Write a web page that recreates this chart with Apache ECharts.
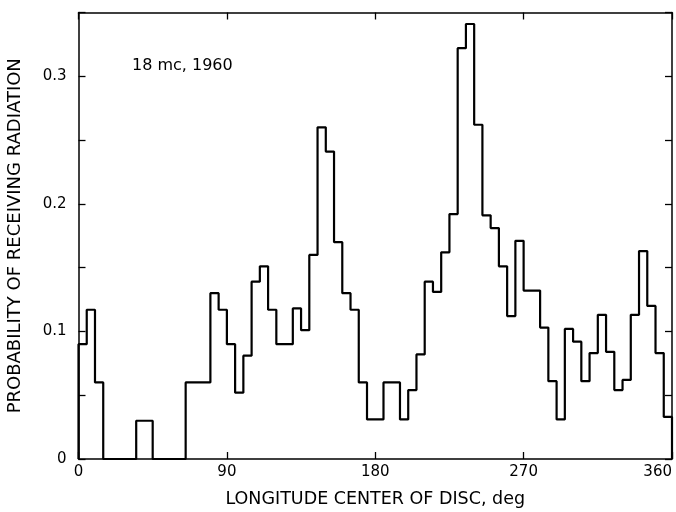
<!DOCTYPE html>
<html>
<head>
<meta charset="utf-8">
<script src="https://cdn.jsdelivr.net/npm/echarts@6/dist/echarts.min.js"></script>
<style>html,body{margin:0;padding:0;background:#fff}#c{width:676px;height:512px}</style>
</head>
<body>
<div id="c"></div>
<script>
// Bin start longitudes (deg), 5-degree bins
const binStarts = [0,5,10,15,20,25,30,35,40,45,50,55,60,65,70,75,80,85,90,95,100,105,110,115,
  120,125,130,135,140,145,150,155,160,165,170,175,180,185,190,195,200,205,210,215,220,225,230,235,
  240,245,250,255,260,265,270,275,280,285,290,295,300,305,310,315,320,325,330,335,340,345,350,355];
const binEnd = 360;
// Probability of receiving radiation per bin
const probability = [0.09,0.117,0.06,0,0,0,0,0.03,0.03,0,0,0,0,0.06,0.06,0.06,0.13,0.117,0.09,0.052,0.081,0.139,0.151,0.117,
  0.09,0.09,0.118,0.101,0.16,0.26,0.241,0.17,0.13,0.117,0.06,0.031,0.031,0.06,0.06,0.031,0.054,0.082,0.139,0.131,0.162,0.192,0.322,0.341,
  0.262,0.191,0.181,0.151,0.112,0.171,0.132,0.132,0.103,0.061,0.031,0.102,0.092,0.061,0.083,0.113,0.084,0.054,0.062,0.113,0.163,0.12,0.083,0.033];
const xTicks = [0, 90, 180, 270, 360];
const yLabels = ['0', '0.1', '0.2', '0.3'];

const pts = [[binStarts[0], 0]];
binStarts.forEach((s, i) => pts.push([s, probability[i]]));
pts.push([binEnd, probability[probability.length - 1]]);
pts.push([binEnd, 0]);

const FONT = 'DejaVu Sans';
const chart = echarts.init(document.getElementById('c'), null, {renderer: 'canvas'});
const axisLine = {show: true, onZero: false, lineStyle: {color: '#000', width: 1.5}};
const tick = {show: true, inside: true, length: 7, lineStyle: {color: '#000', width: 1.3}};
chart.setOption({
  animation: false,
  backgroundColor: '#fff',
  grid: {left: 78.5, right: 4, top: 12.5, bottom: 53, containLabel: false, outerBoundsMode: 'none'},
  xAxis: [{
    type: 'value', min: xTicks[0], max: xTicks[xTicks.length - 1], interval: 90,
    axisLine, axisTick: tick, splitLine: {show: false},
    axisLabel: {color: '#000', fontSize: 15, fontFamily: FONT, margin: 6, showMinLabel: true, showMaxLabel: true,
      alignMaxLabel: 'right'},
    name: 'LONGITUDE CENTER OF DISC, deg', nameLocation: 'middle', nameGap: 31,
    nameTextStyle: {color: '#000', fontSize: 17.5, fontFamily: FONT}
  }, {
    type: 'value', position: 'top', min: 0, max: 360, interval: 90,
    axisLine, axisTick: tick, axisLabel: {show: false}, splitLine: {show: false}
  }],
  yAxis: [{
    type: 'value', min: 0, max: 0.35, interval: 0.05,
    axisLine, axisTick: tick, splitLine: {show: false},
    axisLabel: {color: '#000', fontSize: 15, fontFamily: FONT, margin: 12,
      formatter: v => { const k = Math.round(v * 100); return k % 10 === 0 ? yLabels[k / 10] || '' : ''; }},
    name: 'PROBABILITY OF RECEIVING RADIATION', nameLocation: 'middle', nameGap: 54, nameRotate: 90,
    nameTextStyle: {color: '#000', fontSize: 18, fontFamily: FONT}
  }, {
    type: 'value', position: 'right', min: 0, max: 0.35, interval: 0.05,
    axisLine, axisTick: tick, axisLabel: {show: false}, splitLine: {show: false}
  }],
  graphic: [{
    type: 'text', left: 132, top: 58,
    style: {text: '18 mc, 1960', fill: '#000', font: '16px "DejaVu Sans"'}
  }],
  series: [{
    type: 'line', step: 'end', data: pts, symbol: 'none',
    lineStyle: {color: '#000', width: 2.2}, xAxisIndex: 0, yAxisIndex: 0
  }]
});
</script>
</body>
</html>
